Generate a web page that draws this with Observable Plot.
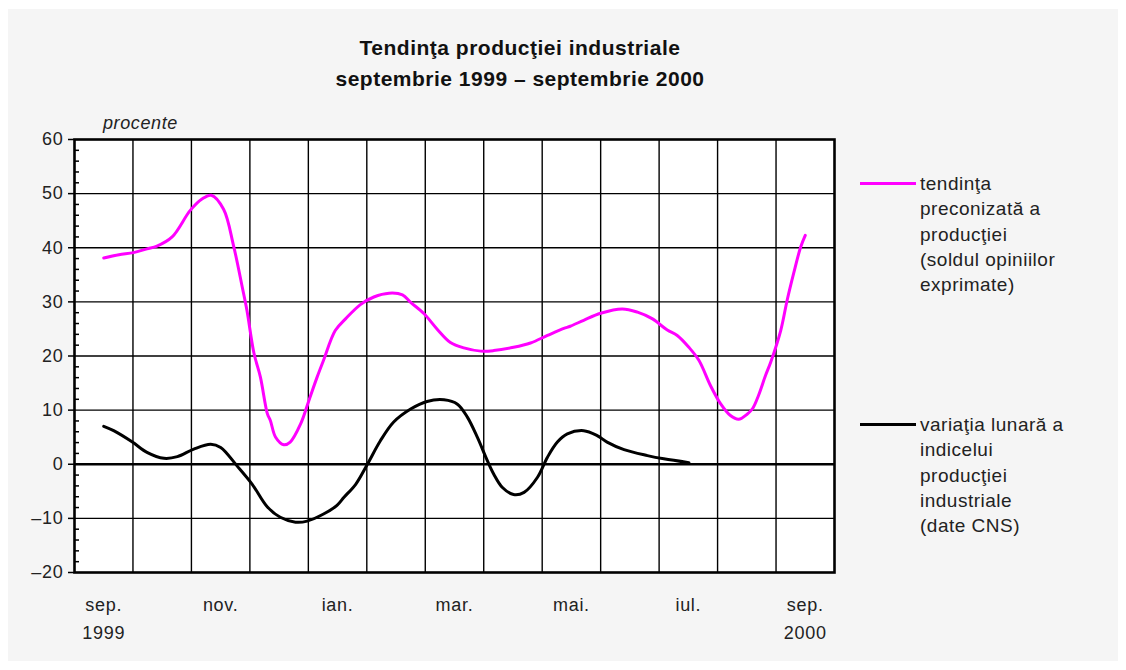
<!DOCTYPE html>
<html>
<head>
<meta charset="utf-8">
<script src="https://cdn.jsdelivr.net/npm/d3@7"></script>
<script src="https://cdn.jsdelivr.net/npm/@observablehq/plot@0.6"></script>
<style>
  html, body { margin: 0; padding: 0; background: #ffffff; }
  body { width: 1126px; height: 670px; position: relative; overflow: hidden;
         font-family: "Liberation Sans", Arial, sans-serif; color: #1a1a1a; }
  #panel { position: absolute; left: 8px; top: 9px; width: 1110px; height: 652px; background: #f5f5f5; }
  #title { position: absolute; left: 170px; width: 700px; top: 32px; text-align: center;
           font-size: 21px; font-weight: bold; line-height: 31px; color: #111; letter-spacing: 0.5px; }
  #unit { position: absolute; left: 103px; top: 113px; font-size: 18px; font-style: italic; color: #222; letter-spacing: 0.6px; }
  #chart { position: absolute; left: 0; top: 0; }
  .leg { position: absolute; left: 860px; font-size: 19px; line-height: 25.3px; color: #222; letter-spacing: 0.5px; }
  .leg .sw { position: absolute; left: 0; top: 11px; width: 56px; height: 0; border-top: 3px solid; }
  .leg .tx { margin-left: 60px; white-space: nowrap; }
</style>
</head>
<body>
<div id="panel"></div>
<div id="title">Tendinţa producţiei industriale<br>septembrie 1999 – septembrie 2000</div>
<div id="unit">procente</div>
<div id="chart"></div>
<div class="leg" style="top:171px"><div class="sw" style="border-color:#ff00ff"></div><div class="tx">tendinţa<br>preconizată a<br>producţiei<br>(soldul opiniilor<br>exprimate)</div></div>
<div class="leg" style="top:412px"><div class="sw" style="border-color:#000"></div><div class="tx">variaţia lunară a<br>indicelui<br>producţiei<br>industriale<br>(date CNS)</div></div>
<script>
// Month labels (sep 1999 .. sep 2000); month index 0 = sep. 1999
const monthLabels = ["sep.\n1999","oct.","nov.","dec.","ian.","feb.","mar.","apr.","mai.","iun.","iul.","aug.","sep.\n2000"];
const labelTicks = [0, 2, 4, 6, 8, 10, 12];
const monthBounds = [0.5, 1.5, 2.5, 3.5, 4.5, 5.5, 6.5, 7.5, 8.5, 9.5, 10.5, 11.5];
const yTicks = [-20, -10, 0, 10, 20, 30, 40, 50, 60];
const yMinor = [-18,-16,-14,-12,-8,-6,-4,-2,2,4,6,8,12,14,16,18,22,24,26,28,32,34,36,38,42,44,46,48,52,54,56,58];
const yGrid = [-10, 10, 20, 30, 40, 50];

// Series 1: tendinţa preconizată a producţiei
const trendX = [0,0.26,0.51,0.74,0.91,1.17,1.48,1.68,1.84,2.05,2.22,2.37,2.45,2.57,2.68,2.80,2.85,2.94,3.08,3.19,3.37,3.51,3.65,3.76,3.96,4.14,4.39,4.62,4.88,5.11,5.25,5.48,5.70,5.93,6.16,6.45,6.67,7.01,7.30,7.59,7.87,7.98,8.21,8.50,8.87,9.13,9.38,9.64,9.81,10.01,10.18,10.38,10.55,10.72,10.86,11.00,11.10,11.20,11.32,11.41,11.58,11.69,11.80,11.92,12.00];
const trendY = [38.1,38.7,39.1,39.8,40.3,42.0,46.9,49.0,49.7,47.1,40.4,32.7,28.4,20.5,16.1,9.3,8.1,5.0,3.6,4.1,7.5,11.8,16.1,19.2,24.7,26.9,29.5,30.9,31.6,31.3,29.9,27.8,25.0,22.5,21.5,20.9,21.0,21.6,22.4,23.8,25.1,25.5,26.6,27.9,28.7,28.1,26.9,24.8,23.8,21.6,19.2,14.5,11.2,9.0,8.3,9.2,10.3,12.7,16.4,18.9,24.7,30.3,35.2,40.1,42.3];

// Series 2: variaţia lunară a indicelui producţiei industriale
const varX = [0,0.17,0.49,0.74,1.03,1.26,1.54,1.83,2.00,2.28,2.54,2.80,3.02,3.28,3.48,3.76,3.99,4.11,4.31,4.51,4.73,4.96,5.25,5.53,5.82,6.05,6.22,6.39,6.56,6.67,6.82,7.01,7.19,7.42,7.59,7.76,7.93,8.21,8.44,8.61,8.90,9.30,9.58,10.01];
const varY = [7.0,6.2,4.1,2.2,1.1,1.4,2.8,3.7,3.1,-0.3,-3.7,-7.9,-9.8,-10.7,-10.5,-9.2,-7.6,-6.1,-3.7,0,4.3,7.8,10.2,11.6,11.9,11.1,8.7,5.0,0.7,-1.8,-4.3,-5.6,-5.2,-2.4,1.3,4.1,5.6,6.2,5.3,4.1,2.7,1.6,1.0,0.3];

const trend = trendX.map((x, i) => ({x, y: trendY[i]}));
const variation = varX.map((x, i) => ({x, y: varY[i]}));

const chart = Plot.plot({
  width: 860,
  height: 660,
  marginLeft: 74,
  marginRight: 26,
  marginTop: 139,
  marginBottom: 88,
  style: { background: "transparent", fontFamily: "Liberation Sans, Arial, sans-serif", fontSize: "18px", color: "#222", letterSpacing: "0.7px" },
  x: { domain: [-0.5, 12.5] },
  y: { domain: [-20, 60] },
  marks: [
    Plot.frame({ fill: "white", stroke: null }),
    Plot.ruleX(monthBounds, { stroke: "#000", strokeWidth: 1.4 }),
    Plot.ruleY(yGrid, { stroke: "#000", strokeWidth: 1.4 }),
    Plot.ruleY([0], { stroke: "#000", strokeWidth: 2.6 }),
    Plot.line(trend, { x: "x", y: "y", stroke: "#ff00ff", strokeWidth: 3, curve: "catmull-rom" }),
    Plot.line(variation, { x: "x", y: "y", stroke: "#000", strokeWidth: 3, curve: "catmull-rom" }),
    Plot.frame({ stroke: "#000", strokeWidth: 2.6, strokeOpacity: 1 }),
    Plot.axisY({ ticks: yTicks, tickSize: 6, tickPadding: 5, label: null, tickFormat: d => d < 0 ? "\u2013" + Math.abs(d) : String(d), stroke: "#000", strokeWidth: 1.5, fontSize: 18 }),
    Plot.axisY({ ticks: yMinor, tickSize: -5, tickFormat: () => "", label: null, stroke: "#000", strokeWidth: 1.5 }),
    Plot.axisX({ ticks: labelTicks, tickSize: 0, tickPadding: 19, tickFormat: i => monthLabels[i], label: null, lineHeight: 1.55, fontSize: 18 })
  ]
});
document.getElementById("chart").appendChild(chart);
</script>
</body>
</html>
